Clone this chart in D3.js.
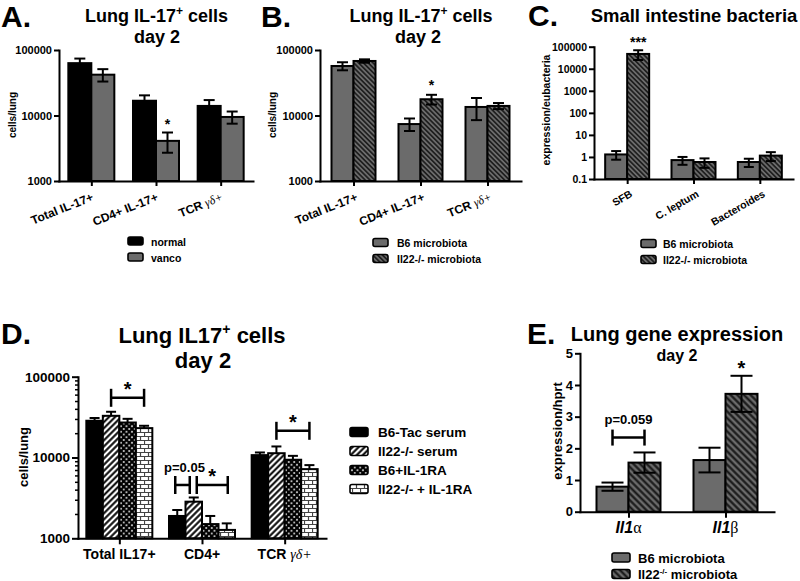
<!DOCTYPE html>
<html><head><meta charset="utf-8">
<script src="https://cdn.jsdelivr.net/npm/d3@7"></script>
<style>
body{margin:0;background:#fff}
svg{display:block}
</style></head><body>
<svg id="c" width="800" height="581"></svg>
<script>
// ---------------- DATA ----------------
// Panel A
const catsA = ["Total IL-17+", "CD4+ IL-17+", "TCR γδ+"];
const seriesA = ["normal", "vanco"];
const normalA = [63000, 16800, 14000];
const normalSemA = [11000, 3500, 3200];
const vancoA = [42000, 4100, 9500];
const vancoSemA = [9000, 1400, 2000];
// Panel B
const catsB = ["Total IL-17+", "CD4+ IL-17+", "TCR γδ+"];
const seriesB = ["B6 microbiota", "Il22-/- microbiota"];
const b6B = [57000, 7400, 13500];
const b6SemB = [8000, 1600, 5000];
const il22B = [68000, 17700, 14000];
const il22SemB = [4000, 3000, 1500];
// Panel C
const catsC = ["SFB", "C. leptum", "Bacteroides"];
const seriesC = ["B6 microbiota", "Il22-/- microbiota"];
const b6C = [1.3, 0.72, 0.59];
const b6SemC = [0.55, 0.28, 0.24];
const il22C = [47000, 0.59, 1.15];
const il22SemC = [22000, 0.27, 0.5];
// Panel D
const catsD = ["Total IL17+", "CD4+", "TCR γδ+"];
const seriesD = ["B6-Tac serum", "Il22-/- serum", "B6+IL-1RA", "Il22-/- + IL-1RA"];
const tacD = [28500, 1890, 10700];
const tacSemD = [2300, 350, 840];
const il22SerumD = [32800, 2840, 11300];
const il22SerumSemD = [4000, 360, 2400];
const il1raD = [27100, 1500, 9380];
const il1raSemD = [3000, 390, 1100];
const il22Il1raD = [23100, 1270, 7180];
const il22Il1raSemD = [1600, 260, 870];
// Panel E
const catsE = ["Il1α", "Il1β"];
const seriesE = ["B6 microbiota", "Il22-/- microbiota"];
const b6E = [0.79, 1.63];
const b6SemE = [0.13, 0.39];
const il22E = [1.55, 3.72];
const il22SemE = [0.32, 0.57];
// Tick values
const logTicks = [1000, 10000, 100000];
const logMinorD = [2000,3000,4000,5000,6000,7000,8000,9000,20000,30000,40000,50000,60000,70000,80000,90000];
const cTicks = [0.1, 1, 10, 100, 1000, 10000, 100000];
const eTicks = [0, 1, 2, 3, 4, 5];
// Significance annotations
const brD = [
  {cat: 0, from: 1, to: 3, value: 54800, label: "*"},
  {cat: 1, from: 0, to: 1, value: 4570, label: "p=0.05"},
  {cat: 1, from: 1, to: 3, value: 4570, label: "*"},
  {cat: 2, from: 1, to: 3, value: 21400, label: "*"}
];
const brE = [{cat: 0, from: 0, to: 1, value: 2.34, label: "p=0.059"}];

// ---------------- SETUP ----------------
const FONT = "'Liberation Sans', Arial, Helvetica, sans-serif";
const SERIF = "'Liberation Serif', 'Times New Roman', serif";
const GRAY = "#6b6b6b";
const svg = d3.select("#c").attr("font-family", FONT).attr("font-weight", "bold");
const defs = svg.append("defs");

function linePat(id, size, sw, angle, bg, fg) {
  const p = defs.append("pattern").attr("id", id).attr("patternUnits", "userSpaceOnUse")
    .attr("width", size).attr("height", size).attr("patternTransform", `rotate(${angle})`);
  p.append("rect").attr("width", size).attr("height", size).attr("fill", bg);
  p.append("line").attr("x1", size / 2).attr("x2", size / 2).attr("y1", -1).attr("y2", size + 1)
    .attr("stroke", fg).attr("stroke-width", sw);
}
linePat("hs", 3.4, 1.5, -45, GRAY, "#151515");
linePat("hl", 4.7, 2.1, -45, GRAY, "#151515");
linePat("st", 4.3, 2.0, 45, "#fff", "#000");
{
  const s = 5.5;
  const p = defs.append("pattern").attr("id", "cr").attr("patternUnits", "userSpaceOnUse").attr("width", s).attr("height", s);
  p.append("rect").attr("width", s).attr("height", s).attr("fill", "#fff");
  p.append("path").attr("d", `M-1,-1L${s+1},${s+1}M${s+1},-1L-1,${s+1}`).attr("stroke", "#000").attr("stroke-width", 2.3);
}
{
  const p = defs.append("pattern").attr("id", "br").attr("patternUnits", "userSpaceOnUse").attr("width", 8).attr("height", 8);
  p.append("rect").attr("width", 8).attr("height", 8).attr("fill", "#fff");
  p.append("path").attr("d", "M0,0.5H8M0,4.5H8M0.5,0.5V4.5M4.5,4.5V8.5").attr("stroke", "#444").attr("stroke-width", 1.2);
}

function rich(x, y, fs, parts, anchor) {
  const t = svg.append("text").attr("x", x).attr("y", y).attr("font-size", fs)
    .attr("text-anchor", anchor || "start").attr("fill", "#000");
  parts.forEach(p => {
    const ts = t.append("tspan").text(p.t);
    if (p.fs) ts.attr("font-size", p.fs);
    if (p.dy) ts.attr("dy", p.dy);
    if (p.ff) ts.attr("font-family", p.ff);
    if (p.fw) ts.attr("font-weight", p.fw);
    if (p.fst) ts.attr("font-style", p.fst);
  });
  return t;
}

function catParts(label) {
  if (label.indexOf("γδ") >= 0) {
    const i = label.indexOf("γδ");
    return [{t: label.slice(0, i)}, {t: label.slice(i), ff: SERIF, fw: "normal", fst: "italic"}];
  }
  if (label.startsWith("Il1")) {
    return [{t: "Il1", fst: "italic"}, {t: label.slice(3), ff: SERIF, fw: "normal"}];
  }
  return [{t: label}];
}

function yAxis(scale, x, ticks, fmt, fs, len) {
  const g = svg.append("g").attr("transform", `translate(${x},0)`)
    .call(d3.axisLeft(scale).tickValues(ticks).tickFormat(fmt).tickSize(len).tickSizeOuter(0).tickPadding(2));
  g.attr("font-family", FONT).attr("font-size", fs).attr("font-weight", "bold");
  g.select(".domain").attr("stroke", "#000").attr("stroke-width", 2).attr("stroke-linecap", "square");
  g.selectAll(".tick line").attr("stroke", "#000").attr("stroke-width", 2);
  g.selectAll(".tick text").attr("fill", "#000");
  return g;
}
function yMinor(scale, x, ticks, len) {
  const g = svg.append("g").attr("transform", `translate(${x},0)`)
    .call(d3.axisLeft(scale).tickValues(ticks).tickFormat("").tickSize(len).tickSizeOuter(0));
  g.select(".domain").remove();
  g.selectAll(".tick line").attr("stroke", "#000").attr("stroke-width", 1.5);
}
function xAxis(scale, y, len) {
  const g = svg.append("g").attr("transform", `translate(0,${y})`)
    .call(d3.axisBottom(scale).tickSize(len).tickSizeOuter(0).tickFormat(""));
  g.select(".domain").attr("stroke", "#000").attr("stroke-width", 2).attr("stroke-linecap", "square");
  g.selectAll(".tick line").attr("stroke", "#000").attr("stroke-width", 2);
  return g;
}

function bars(cats, x0, y, halfW, means, sems, fills, twoSided, capHalf) {
  const x1 = d3.scaleBand().domain(d3.range(means.length)).range([-halfW, halfW]);
  const base = y.range()[0];
  const w = x1.bandwidth();
  means.forEach((arr, s) => {
    arr.forEach((m, c) => {
      const xl = x0(cats[c]) + x1(s), xc = xl + w / 2;
      const sem = sems[s][c];
      const yTop = y(m), yHi = y(m + sem);
      const yLo = twoSided ? y(Math.max(m - sem, y.domain()[0])) : yTop;
      svg.append("rect").attr("x", xl).attr("y", yTop).attr("width", w).attr("height", base - yTop)
        .attr("fill", fills[s]).attr("stroke", "#000").attr("stroke-width", 2);
      const eg = svg.append("g").attr("stroke", "#000").attr("stroke-width", 2);
      eg.append("line").attr("x1", xc).attr("x2", xc).attr("y1", yHi).attr("y2", yLo);
      eg.append("line").attr("x1", xc - capHalf).attr("x2", xc + capHalf).attr("y1", yHi).attr("y2", yHi);
      if (twoSided) eg.append("line").attr("x1", xc - capHalf).attr("x2", xc + capHalf).attr("y1", yLo).attr("y2", yLo);
    });
  });
  return x1;
}

function legend(x, y0, step, sw, sh, fs, labels, fills, textDx, richLabels) {
  labels.forEach((l, i) => {
    const yb = y0 + i * step;
    svg.append("rect").attr("x", x).attr("y", yb - sh - 0.5).attr("width", sw).attr("height", sh)
      .attr("rx", 2).attr("fill", fills[i]).attr("stroke", "#000").attr("stroke-width", 1.6);
    const parts = richLabels && richLabels[i] ? richLabels[i] : [{t: l}];
    rich(x + textDx, yb, fs, parts);
  });
}

function rotLabels(cats, x0, yb, dx, angle, fs) {
  cats.forEach(c => {
    rich(0, 0, fs, catParts(c), "end")
      .attr("transform", `translate(${x0(c) + dx},${yb}) rotate(${angle})`);
  });
}

function yLabel(x, y, fs, text) {
  svg.append("text").attr("transform", `translate(${x},${y}) rotate(-90)`).attr("text-anchor", "middle")
    .attr("font-size", fs).attr("fill", "#000").text(text);
}

function star(x, y, fs, label) {
  svg.append("text").attr("x", x).attr("y", y).attr("text-anchor", "middle").attr("font-size", fs).attr("fill", "#000").text(label);
}

function hBracket(xa, xb, y, h) {
  const g = svg.append("g").attr("stroke", "#000").attr("stroke-width", 2.5);
  g.append("line").attr("x1", xa).attr("x2", xb).attr("y1", y).attr("y2", y);
  g.append("line").attr("x1", xa).attr("x2", xa).attr("y1", y - h).attr("y2", y + h);
  g.append("line").attr("x1", xb).attr("x2", xb).attr("y1", y - h).attr("y2", y + h);
}

const fmtLog = d => d3.format("")(d);

// ---------------- PANEL A ----------------
{
  const x0 = d3.scalePoint().domain(catsA).range([59, 253]).padding(0.5);
  const y = d3.scaleLog().domain([1000, 100000]).range([181, 50]);
  const x1 = bars(catsA, x0, y, 23, [normalA, vancoA], [normalSemA, vancoSemA], ["#000", GRAY], true, 5.5);
  yAxis(y, 59, logTicks, fmtLog, 11, 5);
  xAxis(x0, 181, 5);
  rotLabels(catsA, x0, 200, 3, -22, 12);
  yLabel(16, 115, 10, "cells/lung");
  star(x0(catsA[1]) + x1(1) + x1.bandwidth() / 2, 129, 14, "*");
  rich(1, 27, 30, [{t: "A."}]);
  rich(156.5, 22, 18, [{t: "Lung IL-17"}, {t: "+", fs: 12, dy: -7}, {t: " cells", dy: 7}], "middle");
  rich(157, 43, 18, [{t: "day 2"}], "middle");
  legend(128, 245.5, 16, 15, 8, 10.5, seriesA, ["#000", GRAY], 23);
}

// ---------------- PANEL B ----------------
{
  const x0 = d3.scalePoint().domain(catsB).range([320, 521]).padding(0.5);
  const y = d3.scaleLog().domain([1000, 100000]).range([181, 50]);
  const x1 = bars(catsB, x0, y, 22, [b6B, il22B], [b6SemB, il22SemB], [GRAY, "url(#hs)"], true, 5.5);
  yAxis(y, 320, logTicks, fmtLog, 11, 5);
  xAxis(x0, 181, 5);
  rotLabels(catsB, x0, 200, 5, -22, 12);
  yLabel(276, 115, 10, "cells/lung");
  star(x0(catsB[1]) + x1(1) + x1.bandwidth() / 2, 90, 14, "*");
  rich(261, 27, 30, [{t: "B."}]);
  rich(421, 22, 18, [{t: "Lung IL-17"}, {t: "+", fs: 12, dy: -7}, {t: " cells", dy: 7}], "middle");
  rich(418, 43, 18, [{t: "day 2"}], "middle");
  legend(373, 247, 16, 15, 8, 10.5, seriesB, [GRAY, "url(#hs)"], 24);
}

// ---------------- PANEL C ----------------
{
  const x0 = d3.scalePoint().domain(catsC).range([594, 793]).padding(0.5);
  const y = d3.scaleLog().domain([0.1, 100000]).range([179, 46.7]);
  const x1 = bars(catsC, x0, y, 22, [b6C, il22C], [b6SemC, il22SemC], [GRAY, "url(#hs)"], true, 5);
  yAxis(y, 594, cTicks, d => d3.format("")(d), 10.5, 5);
  xAxis(x0, 179, 5);
  rotLabels(catsC, x0, 196, 6, -30, 10.5);
  yLabel(550, 110, 10.5, "expression/eubacteria");
  star(x0(catsC[0]) + x1(1) + x1.bandwidth() / 2, 47, 14, "***");
  rich(528, 26, 30, [{t: "C."}]);
  rich(694, 22, 18.5, [{t: "Small intestine bacteria"}], "middle");
  legend(641, 248, 16, 15, 8, 10.5, seriesC, [GRAY, "url(#hs)"], 22);
}

// ---------------- PANEL D ----------------
{
  const x0 = d3.scalePoint().domain(catsD).range([78, 326]).padding(0.5);
  const y = d3.scaleLog().domain([1000, 100000]).range([538.3, 376.7]);
  const fills = ["#000", "url(#st)", "url(#cr)", "url(#br)"];
  const x1 = bars(catsD, x0, y, 33, [tacD, il22SerumD, il1raD, il22Il1raD],
    [tacSemD, il22SerumSemD, il1raSemD, il22Il1raSemD], fills, false, 5);
  yMinor(y, 78, logMinorD, 3);
  yAxis(y, 78, logTicks, fmtLog, 13.5, 6);
  xAxis(x0, 538.3, 6);
  catsD.forEach(c => rich(x0(c), 559, 14, catParts(c), "middle"));
  yLabel(28, 457, 13, "cells/lung");
  const cx = (cat, s) => x0(catsD[cat]) + x1(s) + x1.bandwidth() / 2;
  brD.forEach((b, i) => {
    let xa = cx(b.cat, b.from), xb = cx(b.cat, b.to);
    if (b.cat === 1 && b.from === 0) { xa -= 2; xb -= 4; }
    if (b.cat === 1 && b.from === 1) { xa += 3; xb += 1; }
    const yy = y(b.value);
    hBracket(xa, xb, yy, 9);
    if (b.label === "*") star((xa + xb) / 2, yy - 2, 20, "*");
    else rich((xa + xb) / 2 + 2, yy - 13, 13, [{t: b.label}], "middle");
  });
  rich(1, 344, 30, [{t: "D."}]);
  rich(202, 343, 22, [{t: "Lung IL17"}, {t: "+", fs: 14, dy: -9}, {t: " cells", dy: 9}], "middle");
  rich(203, 368, 22, [{t: "day 2"}], "middle");
  legend(350, 437, 19, 18, 9, 13.5, seriesD, fills, 28);
}

// ---------------- PANEL E ----------------
{
  const x0 = d3.scalePoint().domain(catsE).range([580, 774]).padding(0.5);
  const y = d3.scaleLinear().domain([0, 5]).range([511.7, 353.3]);
  const x1 = bars(catsE, x0, y, 32, [b6E, il22E], [b6SemE, il22SemE], [GRAY, "url(#hl)"], true, 11);
  yAxis(y, 580, eTicks, d3.format("d"), 13, 5);
  xAxis(x0, 511.7, 6);
  catsE.forEach(c => rich(x0(c), 533, 16, catParts(c), "middle"));
  yLabel(562, 431, 13, "expression/hprt");
  const cx = (cat, s) => x0(catsE[cat]) + x1(s) + x1.bandwidth() / 2;
  brE.forEach(b => {
    const xa = cx(b.cat, b.from), xb = cx(b.cat, b.to), yy = y(b.value);
    hBracket(xa, xb, yy, 8);
    rich((xa + xb) / 2, yy - 13.5, 13, [{t: b.label}], "middle");
  });
  star(x0(catsE[1]) + x1(1) + x1.bandwidth() / 2, 374.5, 20, "*");
  rich(527, 344, 30, [{t: "E."}]);
  rich(677, 341, 20, [{t: "Lung gene expression"}], "middle");
  rich(677, 361, 16, [{t: "day 2"}], "middle");
  legend(612, 562.5, 16.5, 18, 9, 13, seriesE, [GRAY, "url(#hl)"], 26,
    [null, [{t: "Il22"}, {t: "-/-", fs: 8, dy: -5}, {t: " microbiota", dy: 5}]]);
}
</script>
</body></html>
